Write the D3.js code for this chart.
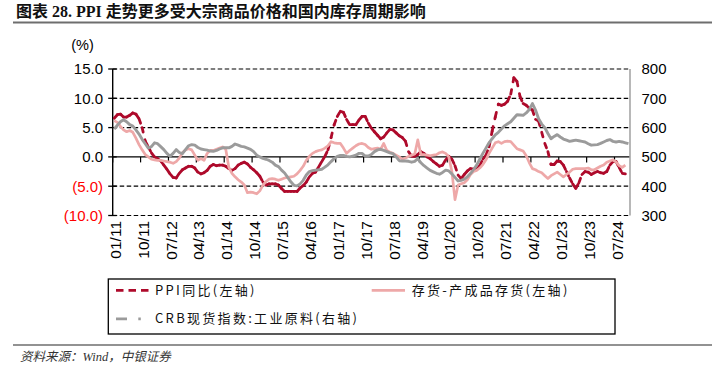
<!DOCTYPE html>
<html><head><meta charset="utf-8">
<script src="https://cdn.jsdelivr.net/npm/d3@7"></script>
<style>body{margin:0;background:#fff}</style>
</head><body><svg id="c" width="723" height="371"></svg>
<script>
const title = "图表 28. PPI 走势更多受大宗商品价格和国内库存周期影响";
const source = "资料来源：Wind，中银证券";
const unitLabel = "(%)";
// monthly categories Jan 2011 .. Nov 2024
const months = d3.timeMonth.range(new Date(2011,0,1), new Date(2024,11,1)).map(d3.timeFormat("%m/%y"));
const tickLabels = ["01/11","10/11","07/12","04/13","01/14","10/14","07/15","04/16","01/17","10/17","07/18","04/19","01/20","10/20","07/21","04/22","01/23","10/23","07/24"];
const leftTicks = [-10,-5,0,5,10,15];
const rightTicks = [300,400,500,600,700,800];
const seriesNames = ["PPI同比(左轴)","存货-产成品存货(左轴)","CRB现货指数:工业原料(右轴)"];

// PPI YoY (%), left axis, Jan 2011 - Oct 2024
const ppi = [
 6.6,7.2,7.3,6.8,6.8,7.1,7.5,7.3,6.5,5.0,2.7,1.7,
 0.7,0.0,-0.3,-0.7,-1.4,-2.1,-2.9,-3.5,-3.6,-2.8,-2.2,-1.9,
 -1.6,-1.6,-1.9,-2.6,-2.9,-2.7,-2.3,-1.6,-1.3,-1.5,-1.4,-1.4,
 -1.6,-2.0,-2.3,-2.0,-1.4,-1.1,-0.9,-1.2,-1.8,-2.2,-2.7,-3.3,
 -4.3,-4.8,-4.6,-4.6,-4.6,-4.8,-5.4,-5.9,-5.9,-5.9,-5.9,-5.9,
 -5.3,-4.9,-4.3,-3.4,-2.8,-2.6,-1.7,-0.8,0.1,1.2,3.3,5.5,
 6.9,7.8,7.6,6.4,5.5,5.5,5.5,6.3,6.9,6.9,5.8,4.9,
 4.3,3.7,3.1,3.4,4.1,4.7,4.6,4.1,3.6,3.3,2.7,0.9,
 0.1,0.1,0.4,0.9,0.6,0.0,-0.3,-0.8,-1.2,-1.6,-1.4,-0.5,
 0.1,-0.4,-1.5,-3.1,-3.7,-3.0,-2.4,-2.0,-2.1,-2.1,-1.5,-0.4,
 0.3,1.7,4.4,6.8,9.0,8.8,9.0,9.5,10.7,13.5,12.9,10.3,
 9.1,8.8,8.3,8.0,6.4,6.1,4.2,2.3,0.9,-1.3,-1.3,-0.7,
 -0.8,-1.4,-2.5,-3.6,-4.6,-5.4,-4.4,-3.0,-2.5,-2.6,-3.0,-2.7,
 -2.5,-2.7,-2.8,-2.5,-1.4,-0.8,-0.8,-1.8,-2.8,-2.9
];
// inventory - finished goods (%), left axis, Jan 2011 - Oct 2024
const inventory = [
 6.2,5.9,5.2,4.6,4.3,4.5,4.2,3.2,2.1,1.2,
 0.4,0.0,-0.4,-0.5,-0.6,-0.6,-0.7,-0.8,-0.9,-1.1,
 -0.8,-0.2,0.7,1.2,1.4,1.2,0.3,-0.6,-0.3,-0.6,
 0.6,1.1,1.1,1.3,1.5,1.7,1.3,-1.8,-2.8,-3.4,
 -3.9,-4.3,-4.8,-6.1,-6.0,-6.1,-6.3,-5.8,-4.8,-4.2,
 -3.8,-3.7,-3.8,-4.0,-3.8,-3.6,-3.5,-3.4,-3.3,-2.9,
 -2.3,-1.6,-0.6,0.1,0.6,0.9,1.1,1.2,1.5,1.9,
 2.6,2.4,2.3,2.3,1.5,0.6,1.1,1.5,1.9,2.2,
 2.3,2.1,1.6,1.3,1.4,1.5,1.3,2.3,1.1,0.8,
 0.6,0.3,0.0,-0.4,-0.2,0.1,0.3,0.5,2.9,0.4,
 0.4,0.3,0.2,0.3,0.4,0.7,0.85,0.6,0.0,-2.5,
 -7.3,-4.8,-4.6,-4.4,-3.9,-3.0,-2.5,-2.3,-1.9,-1.3,
 -0.5,0.6,1.5,2.4,2.6,2.3,2.6,2.7,2.6,2.0,
 1.4,1.2,1.0,0.2,-1.0,-2.0,-2.2,-2.5,-2.7,-3.2,
 -3.7,-3.2,-2.9,-2.6,-3.0,-3.4,-3.0,-2.6,-2.1,-2.0,
 -2.0,-2.0,-2.0,-1.9,-2.2,-2.2,-1.9,-1.6,-1.4,-0.9,
 -0.7,-0.5,-0.9,-1.5,-1.8,-1.4
];
// CRB spot index: raw industrials, right axis, Jan 2011 - Nov 2024
const crb = [
 595,608,620,627,620,610,605,592,578,560,
 545,530,535,548,545,535,525,512,502,512,
 525,515,511,525,538,542,540,532,527,525,
 523,520,519,522,527,531,531,531,536,544,
 540,536,534,530,526,518,506,500,495,492,
 488,482,472,467,455,445,430,415,403,401,
 408,420,438,450,453,455,456,458,465,473,
 484,494,502,505,505,502,500,503,506,512,
 512,503,503,508,518,524,526,522,518,514,
 511,500,487,486,486,485,482,485,494,480,
 470,462,454,449,444,441,447,455,452,442,
 430,418,420,424,432,443,457,472,492,512,
 530,548,562,575,584,595,606,613,620,632,
 644,643,642,650,662,682,660,630,612,600,
 580,562,570,576,568,561,557,553,555,557,
 555,553,551,545,540,541,542,546,551,556,
 559,553,551,553,551,548,545
];

const RED = "#AE0A2B", PINK = "#EEA8A8", GREY = "#9B9B9B";
const svg = d3.select("#c");
const L = 112.7, R = 630, T = 69, B = 215.5;
const x = d3.scaleBand().domain(d3.range(months.length)).range([L, R]);
const cx = i => x(i) + x.bandwidth() / 2;
const yL = d3.scaleLinear().domain([-10, 15]).range([B, T]);
const yR = d3.scaleLinear().domain([300, 800]).range([B, T]);
const sans = "'Liberation Sans', Arial, sans-serif";
const cjk = "'Noto Sans CJK SC', sans-serif";

// title and rules
svg.append("text").attr("x", 16).attr("y", 16.5).text(title)
  .attr("font-family", "'Liberation Serif', 'Noto Sans CJK SC', serif")
  .attr("font-weight", "bold").attr("font-size", 16).attr("fill", "#111");
svg.append("line").attr("x1", 13).attr("x2", 712).attr("y1", 22.5).attr("y2", 22.5)
  .attr("stroke", "#6e6e6e").attr("stroke-width", 1.8);
svg.append("line").attr("x1", 13).attr("x2", 712).attr("y1", 345).attr("y2", 345)
  .attr("stroke", "#6e6e6e").attr("stroke-width", 1.5);
svg.append("text").attr("x", 20).attr("y", 361).text(source)
  .attr("font-family", "'Liberation Serif', 'Noto Sans CJK SC', serif")
  .attr("font-style", "italic").attr("font-size", 12.5).attr("fill", "#333");

// grid
leftTicks.filter(v => v !== 0).forEach(v => {
  svg.append("line").attr("x1", L).attr("x2", R).attr("y1", yL(v)).attr("y2", yL(v))
    .attr("stroke", "#000").attr("stroke-width", 1.2).attr("stroke-dasharray", "4.5,2.5");
});
// zero line with category ticks
svg.append("line").attr("x1", L).attr("x2", R).attr("y1", yL(0)).attr("y2", yL(0))
  .attr("stroke", "#000").attr("stroke-width", 1.3);
tickLabels.forEach(lab => {
  const i = months.indexOf(lab);
  svg.append("line").attr("x1", x(i)).attr("x2", x(i)).attr("y1", yL(0)).attr("y2", yL(0) + 5.5)
    .attr("stroke", "#000").attr("stroke-width", 1.2);
});
// left axis
svg.append("line").attr("x1", L).attr("x2", L).attr("y1", T).attr("y2", B)
  .attr("stroke", "#000").attr("stroke-width", 1.4);
leftTicks.forEach(v => {
  svg.append("line").attr("x1", L - 4.5).attr("x2", L + 4).attr("y1", yL(v)).attr("y2", yL(v))
    .attr("stroke", "#000").attr("stroke-width", 1.3);
  svg.append("text").attr("x", 103).attr("y", yL(v)).attr("dy", "0.36em")
    .attr("text-anchor", "end").attr("font-family", sans).attr("font-size", 15)
    .attr("fill", v < 0 ? "#FF0000" : "#000")
    .text(v < 0 ? "(" + Math.abs(v).toFixed(1) + ")" : v.toFixed(1));
});
svg.append("text").attr("x", 82.5).attr("y", 45).attr("dy", "0.36em").attr("text-anchor", "middle")
  .attr("font-family", sans).attr("font-size", 14.5).text(unitLabel);
// right axis
svg.append("line").attr("x1", R).attr("x2", R).attr("y1", T).attr("y2", B)
  .attr("stroke", "#a6a6a6").attr("stroke-width", 1.6);
rightTicks.forEach(v => {
  svg.append("text").attr("x", 641.5).attr("y", yR(v)).attr("dy", "0.36em")
    .attr("font-family", sans).attr("font-size", 15).text(v);
});
// x labels
tickLabels.forEach(lab => {
  const i = months.indexOf(lab);
  svg.append("text").attr("transform", `translate(${cx(i) + 1},221) rotate(-90)`)
    .attr("dy", "0.36em").attr("text-anchor", "end")
    .attr("font-family", sans).attr("font-size", 15.5).text(lab);
});

// series
const pts = ppi.map((v, i) => [cx(i), yL(v)]);
svg.append("g").selectAll("line").data(d3.pairs(pts)).join("line")
  .attr("x1", d => d[0][0]).attr("y1", d => d[0][1]).attr("x2", d => d[1][0]).attr("y2", d => d[1][1])
  .attr("stroke", RED).attr("stroke-width", 2.8).attr("stroke-linecap", "round")
  .attr("stroke-dasharray", "4.7,7.8");
svg.append("path").attr("d", d3.line().x((d, i) => cx(i)).y(d => yL(d))(inventory))
  .attr("fill", "none").attr("stroke", PINK).attr("stroke-width", 2.7).attr("stroke-linejoin", "round");
svg.append("path").attr("d", d3.line().x((d, i) => cx(i)).y(d => yR(d))(crb))
  .attr("fill", "none").attr("stroke", GREY).attr("stroke-width", 2.9).attr("stroke-linejoin", "round");

// legend
svg.append("rect").attr("x", 108.3).attr("y", 279).attr("width", 506.7).attr("height", 55)
  .attr("fill", "none").attr("stroke", "#000").attr("stroke-width", 1.3);
const r1 = 290.3, r2 = 318.8;
svg.append("line").attr("x1", 116).attr("x2", 150).attr("y1", r1).attr("y2", r1)
  .attr("stroke", RED).attr("stroke-width", 2.8).attr("stroke-dasharray", "7.5,5");
svg.append("line").attr("x1", 371.7).attr("x2", 405).attr("y1", r1).attr("y2", r1)
  .attr("stroke", PINK).attr("stroke-width", 2.8);
svg.append("line").attr("x1", 116).attr("x2", 150).attr("y1", r2).attr("y2", r2)
  .attr("stroke", GREY).attr("stroke-width", 2.8).attr("stroke-dasharray", "11,11.3,2.5,20");
[[155, r1, seriesNames[0]], [411.7, r1, seriesNames[1]], [155, r2, seriesNames[2]]].forEach(([lx, ly, t]) => {
  svg.append("text").attr("x", lx).attr("y", ly).attr("dy", "0.36em").text(t)
    .attr("font-family", cjk).attr("font-size", 13).attr("letter-spacing", 2.3).attr("fill", "#111");
});
</script></body></html>
